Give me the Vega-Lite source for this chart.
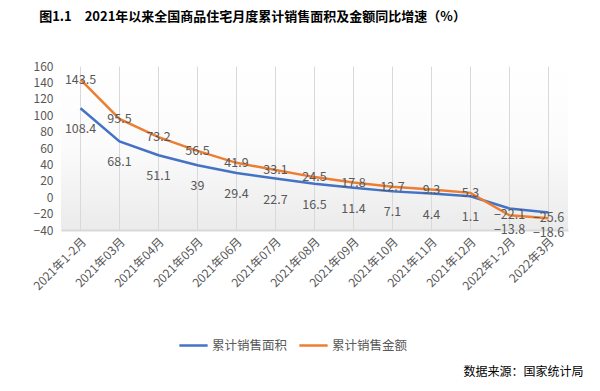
{
  "$schema": "https://vega.github.io/schema/vega-lite/v6.json",
  "autosize": {"type": "none"},
  "width": 507,
  "height": 164,
  "padding": {"left": 61, "top": 66, "right": 32, "bottom": 161},
  "background": "#ffffff",
  "title": {
    "text": "图1.1　2021年以来全国商品住宅月度累计销售面积及金额同比增速（%）",
    "font": "Noto Sans CJK SC",
    "fontSize": 13,
    "fontWeight": "bold",
    "color": "#000000",
    "anchor": "middle",
    "frame": "group",
    "dx": -62,
    "offset": 36
  },
  "config": {
    "font": "Noto Sans CJK SC",
    "view": {
      "stroke": null,
      "fill": {
        "gradient": "linear",
        "x1": 0, "y1": 0, "x2": 0, "y2": 1,
        "stops": [
          {"offset": 0, "color": "#ffffff"},
          {"offset": 0.5, "color": "#fbfbfb"},
          {"offset": 1, "color": "#ebebeb"}
        ]
      }
    }
  },
  "data": {
    "values": [
      {"month": "2021年1-2月", "series": "累计销售面积", "value": 108.4},
      {"month": "2021年03月", "series": "累计销售面积", "value": 68.1},
      {"month": "2021年04月", "series": "累计销售面积", "value": 51.1},
      {"month": "2021年05月", "series": "累计销售面积", "value": 39},
      {"month": "2021年06月", "series": "累计销售面积", "value": 29.4},
      {"month": "2021年07月", "series": "累计销售面积", "value": 22.7},
      {"month": "2021年08月", "series": "累计销售面积", "value": 16.5},
      {"month": "2021年09月", "series": "累计销售面积", "value": 11.4},
      {"month": "2021年10月", "series": "累计销售面积", "value": 7.1},
      {"month": "2021年11月", "series": "累计销售面积", "value": 4.4},
      {"month": "2021年12月", "series": "累计销售面积", "value": 1.1},
      {"month": "2022年1-2月", "series": "累计销售面积", "value": -13.8},
      {"month": "2022年3月", "series": "累计销售面积", "value": -18.6},
      {"month": "2021年1-2月", "series": "累计销售金额", "value": 143.5},
      {"month": "2021年03月", "series": "累计销售金额", "value": 95.5},
      {"month": "2021年04月", "series": "累计销售金额", "value": 73.2},
      {"month": "2021年05月", "series": "累计销售金额", "value": 56.5},
      {"month": "2021年06月", "series": "累计销售金额", "value": 41.9},
      {"month": "2021年07月", "series": "累计销售金额", "value": 33.1},
      {"month": "2021年08月", "series": "累计销售金额", "value": 24.5},
      {"month": "2021年09月", "series": "累计销售金额", "value": 17.8},
      {"month": "2021年10月", "series": "累计销售金额", "value": 12.7},
      {"month": "2021年11月", "series": "累计销售金额", "value": 9.3},
      {"month": "2021年12月", "series": "累计销售金额", "value": 5.3},
      {"month": "2022年1-2月", "series": "累计销售金额", "value": -22.1},
      {"month": "2022年3月", "series": "累计销售金额", "value": -25.6}
    ]
  },
  "encoding": {
    "x": {
      "field": "month",
      "type": "nominal",
      "sort": null,
      "scale": {"type": "band", "paddingInner": 0, "paddingOuter": 0},
      "axis": {
        "title": "数据来源：国家统计局",
        "titleFont": "Noto Sans CJK SC",
        "titleFontSize": 12,
        "titleFontWeight": "normal",
        "titleColor": "#000000",
        "titleAnchor": null,
        "titleAlign": "right",
        "titleBaseline": "middle",
        "titleX": 522,
        "titleY": 141,
        "labelAngle": -45,
        "labelFontSize": 12,
        "labelColor": "#595959",
        "labelPadding": 6,
        "ticks": false,
        "domainColor": "#d9d9d9",
        "domainWidth": 2,
        "grid": true,
        "gridColor": "#d9d9d9",
        "gridWidth": 1,
        "bandPosition": 0.5
      }
    },
    "y": {
      "field": "value",
      "type": "quantitative",
      "scale": {"domain": [-40, 160], "nice": false, "zero": false},
      "axis": {
        "title": null,
        "values": [-40, -20, 0, 20, 40, 60, 80, 100, 120, 140, 160],
        "grid": false,
        "domain": false,
        "ticks": false,
        "labelFontSize": 12,
        "labelColor": "#595959",
        "labelPadding": 8
      }
    }
  },
  "layer": [
    {
      "mark": {"type": "line", "strokeWidth": 2.5, "interpolate": "linear"},
      "encoding": {
        "color": {
          "field": "series",
          "type": "nominal",
          "scale": {"domain": ["累计销售面积", "累计销售金额"], "range": ["#4472C4", "#ED7D31"]},
          "legend": {
            "title": null,
            "orient": "none",
            "direction": "horizontal",
            "legendX": 117,
            "legendY": 264,
            "symbolType": "stroke",
            "symbolSize": 800,
            "symbolStrokeWidth": 2.5,
            "labelFontSize": 12.5,
            "labelColor": "#595959",
            "labelFont": "Noto Sans CJK SC",
            "columnPadding": 6,
            "labelOffset": 3
          }
        }
      }
    },
    {
      "transform": [{"filter": "datum.series === '累计销售面积'"}],
      "mark": {"type": "text", "fontSize": 12.5, "color": "#595959", "dy": 21, "align": "center", "baseline": "middle"},
      "encoding": {"text": {"field": "value", "type": "quantitative"}}
    },
    {
      "transform": [{"filter": "datum.series === '累计销售金额'"}],
      "mark": {"type": "text", "fontSize": 12.5, "color": "#595959", "dy": 0, "align": "center", "baseline": "middle"},
      "encoding": {"text": {"field": "value", "type": "quantitative"}}
    }
  ]
}
